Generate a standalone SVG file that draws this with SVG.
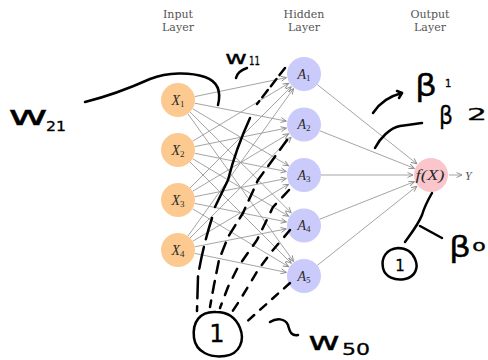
<svg xmlns="http://www.w3.org/2000/svg" width="488" height="360" viewBox="0 0 488 360">
<defs>
<marker id="ah" markerWidth="8" markerHeight="8" refX="6" refY="3" orient="auto" markerUnits="userSpaceOnUse">
<path d="M0.5,0.5 L6,3 L0.5,5.5" fill="none" stroke="#8a8a8a" stroke-width="0.9"/>
</marker>
<style>
.edge{stroke:#9a9a9a;stroke-width:0.9;fill:none;marker-end:url(#ah)}
.in{fill:#fcca91}
.hid{fill:#cacafb}
.out{fill:#fac6cc}
.lay{font-family:"DejaVu Serif",serif;font-size:11px;fill:#555;text-anchor:middle}
.lbl{font-family:"Liberation Serif",serif;font-style:italic;font-size:14px;fill:#2a2a2a}
.sub{font-style:normal;font-size:9px}
.ink{stroke:#000;stroke-width:2.5;fill:none;stroke-linecap:round;stroke-linejoin:round}
.hw{font-family:"DejaVu Sans",sans-serif;font-weight:normal;fill:#000;stroke:#000;stroke-width:0.3}
</style>
</defs>
<rect width="488" height="360" fill="#fff"/>

<g id="layer-labels">
<text class="lay" x="178" y="18">Input</text>
<text class="lay" x="178" y="31">Layer</text>
<text class="lay" x="304" y="18">Hidden</text>
<text class="lay" x="304" y="31">Layer</text>
<text class="lay" x="430" y="18">Output</text>
<text class="lay" x="430" y="31">Layer</text>
</g>

<g id="connectors">
<line class="edge" x1="194.6" y1="96.6" x2="286.4" y2="77.6"/>
<line class="edge" x1="194.7" y1="103.2" x2="286.3" y2="121.1"/>
<line class="edge" x1="192.6" y1="108.7" x2="288.5" y2="165.8"/>
<line class="edge" x1="190.0" y1="112.0" x2="291.2" y2="212.8"/>
<line class="edge" x1="187.9" y1="113.8" x2="293.5" y2="261.4"/>
<line class="edge" x1="192.6" y1="141.2" x2="288.6" y2="83.3"/>
<line class="edge" x1="194.7" y1="146.6" x2="286.4" y2="128.1"/>
<line class="edge" x1="194.7" y1="153.3" x2="286.3" y2="171.5"/>
<line class="edge" x1="192.6" y1="158.7" x2="288.6" y2="216.2"/>
<line class="edge" x1="190.0" y1="162.0" x2="291.3" y2="263.3"/>
<line class="edge" x1="190.0" y1="188.0" x2="291.3" y2="86.7"/>
<line class="edge" x1="192.6" y1="191.3" x2="288.6" y2="133.8"/>
<line class="edge" x1="194.7" y1="196.7" x2="286.3" y2="178.5"/>
<line class="edge" x1="194.7" y1="203.4" x2="286.4" y2="221.9"/>
<line class="edge" x1="192.6" y1="208.8" x2="288.6" y2="266.7"/>
<line class="edge" x1="187.9" y1="236.2" x2="293.5" y2="88.6"/>
<line class="edge" x1="190.0" y1="238.0" x2="291.2" y2="137.2"/>
<line class="edge" x1="192.6" y1="241.3" x2="288.5" y2="184.2"/>
<line class="edge" x1="194.7" y1="246.8" x2="286.3" y2="228.9"/>
<line class="edge" x1="194.6" y1="253.4" x2="286.4" y2="272.4"/>
<line class="edge" x1="317.3" y1="84.6" x2="416.9" y2="163.8"/>
<line class="edge" x1="319.8" y1="130.8" x2="414.3" y2="168.3"/>
<line class="edge" x1="321" y1="175" x2="413" y2="175"/>
<line class="edge" x1="319.8" y1="219.2" x2="414.3" y2="181.7"/>
<line class="edge" x1="317.3" y1="265.4" x2="416.9" y2="186.2"/>
<line class="edge" x1="449" y1="175" x2="462" y2="175"/>
</g>

<g id="X1"><circle class="in" cx="178" cy="100" r="17"/><text class="lbl" x="178" y="104.5" text-anchor="middle">X<tspan class="sub" dy="2">1</tspan></text></g>
<g id="X2"><circle class="in" cx="178" cy="150" r="17"/><text class="lbl" x="178" y="154.5" text-anchor="middle">X<tspan class="sub" dy="2">2</tspan></text></g>
<g id="X3"><circle class="in" cx="178" cy="200" r="17"/><text class="lbl" x="178" y="204.5" text-anchor="middle">X<tspan class="sub" dy="2">3</tspan></text></g>
<g id="X4"><circle class="in" cx="178" cy="250" r="17"/><text class="lbl" x="178" y="254.5" text-anchor="middle">X<tspan class="sub" dy="2">4</tspan></text></g>

<g id="A1"><circle class="hid" cx="304" cy="74" r="17"/><text class="lbl" x="304" y="78.5" text-anchor="middle">A<tspan class="sub" dy="2">1</tspan></text></g>
<g id="A2"><circle class="hid" cx="304" cy="124.5" r="17"/><text class="lbl" x="304" y="129" text-anchor="middle">A<tspan class="sub" dy="2">2</tspan></text></g>
<g id="A3"><circle class="hid" cx="304" cy="175" r="17"/><text class="lbl" x="304" y="179.5" text-anchor="middle">A<tspan class="sub" dy="2">3</tspan></text></g>
<g id="A4"><circle class="hid" cx="304" cy="225.5" r="17"/><text class="lbl" x="304" y="230" text-anchor="middle">A<tspan class="sub" dy="2">4</tspan></text></g>
<g id="A5"><circle class="hid" cx="304" cy="276" r="17"/><text class="lbl" x="304" y="280.5" text-anchor="middle">A<tspan class="sub" dy="2">5</tspan></text></g>

<g id="output"><circle class="out" cx="431" cy="175" r="17"/><text class="lbl" x="415.5" y="179.5" textLength="29" lengthAdjust="spacingAndGlyphs">f(X)</text><text class="lbl" x="465" y="179.5" style="font-size:12px;fill:#555">Y</text></g>

<g id="annotations">
<path class="ink" d="M85,102 C105,97 130,88 150,79 C168,72 190,72 205,77 C222,83 220,97 218,105"/>
<text class="hw" x="8" y="125" font-size="26" textLength="40" lengthAdjust="spacingAndGlyphs">w</text>
<text class="hw" x="46" y="131" font-size="14" textLength="20" lengthAdjust="spacingAndGlyphs">21</text>
<text class="hw" x="225" y="64" font-size="17" textLength="22" lengthAdjust="spacingAndGlyphs">w</text>
<text class="hw" x="249" y="65" font-size="12" textLength="11" lengthAdjust="spacingAndGlyphs">11</text>
<path class="ink" d="M247,68 C241,70 237,73 236,78"/>

<path class="ink" d="M285,68 L257,104" stroke-dasharray="9 5"/>
<path class="ink" d="M250,118 C240,140 233,160 228,180 L215,207"/>
<path class="ink" d="M212,218 C205,240 200,262 198,277 L197,311" stroke-dasharray="22 8"/>
<path class="ink" d="M287,140 L258,180 L243,213 L228,237 L219,260 L214,285 L210,307" stroke-dasharray="12 8"/>
<path class="ink" d="M289,190 L273,207 L257,240 L238,267 L228,287 L220,308" stroke-dasharray="10 9"/>
<path class="ink" d="M290,230 L273,250 L258,270 L240,300 L230,315" stroke-dasharray="9 9"/>
<path class="ink" d="M290,283 L243,325" stroke-dasharray="8 8"/>

<path class="ink" d="M216,312 C200,311 192,322 194,338 C196,352 210,358 225,356 C240,354 245,340 240,328 C236,318 228,312 216,312 Z"/>
<text class="hw" x="217" y="342" font-size="24" text-anchor="middle">1</text>
<path class="ink" d="M270,322 C276,318 285,318 288,325 C290,333 292,336 298,335"/>
<text class="hw" x="308" y="350" font-size="24" textLength="32" lengthAdjust="spacingAndGlyphs">w</text>
<text class="hw" x="342" y="355" font-size="16" textLength="28" lengthAdjust="spacingAndGlyphs">50</text>

<path class="ink" d="M373,113 C380,102 390,96 402,93"/>
<path class="ink" d="M397,91 L402,93 L399,98"/>
<text class="hw" x="415" y="96" font-size="30" textLength="22" lengthAdjust="spacingAndGlyphs">β</text>
<text class="hw" x="445" y="87" font-size="10">1</text>
<path class="ink" d="M375,148 C380,138 390,128 400,126 C410,125 415,124 422,123"/>
<text class="hw" x="439" y="124" font-size="24" textLength="14" lengthAdjust="spacingAndGlyphs">β</text>
<text class="hw" x="467" y="120" font-size="16" textLength="20" lengthAdjust="spacingAndGlyphs">2</text>

<path class="ink" d="M432,193 C428,200 425,205 422,215 C418,225 410,235 405,242"/>
<path class="ink" d="M420,226 L442,238"/>
<text class="hw" x="449" y="257" font-size="28" textLength="22" lengthAdjust="spacingAndGlyphs">β</text>
<text class="hw" x="472" y="251" font-size="12" textLength="14" lengthAdjust="spacingAndGlyphs">0</text>
<path class="ink" d="M398,248 C386,249 381,258 383,268 C385,277 395,281 405,279 C415,277 419,268 415,259 C412,252 406,248 398,248 Z"/>
<text class="hw" x="400" y="271" font-size="15" text-anchor="middle">1</text>
</g>
</svg>
